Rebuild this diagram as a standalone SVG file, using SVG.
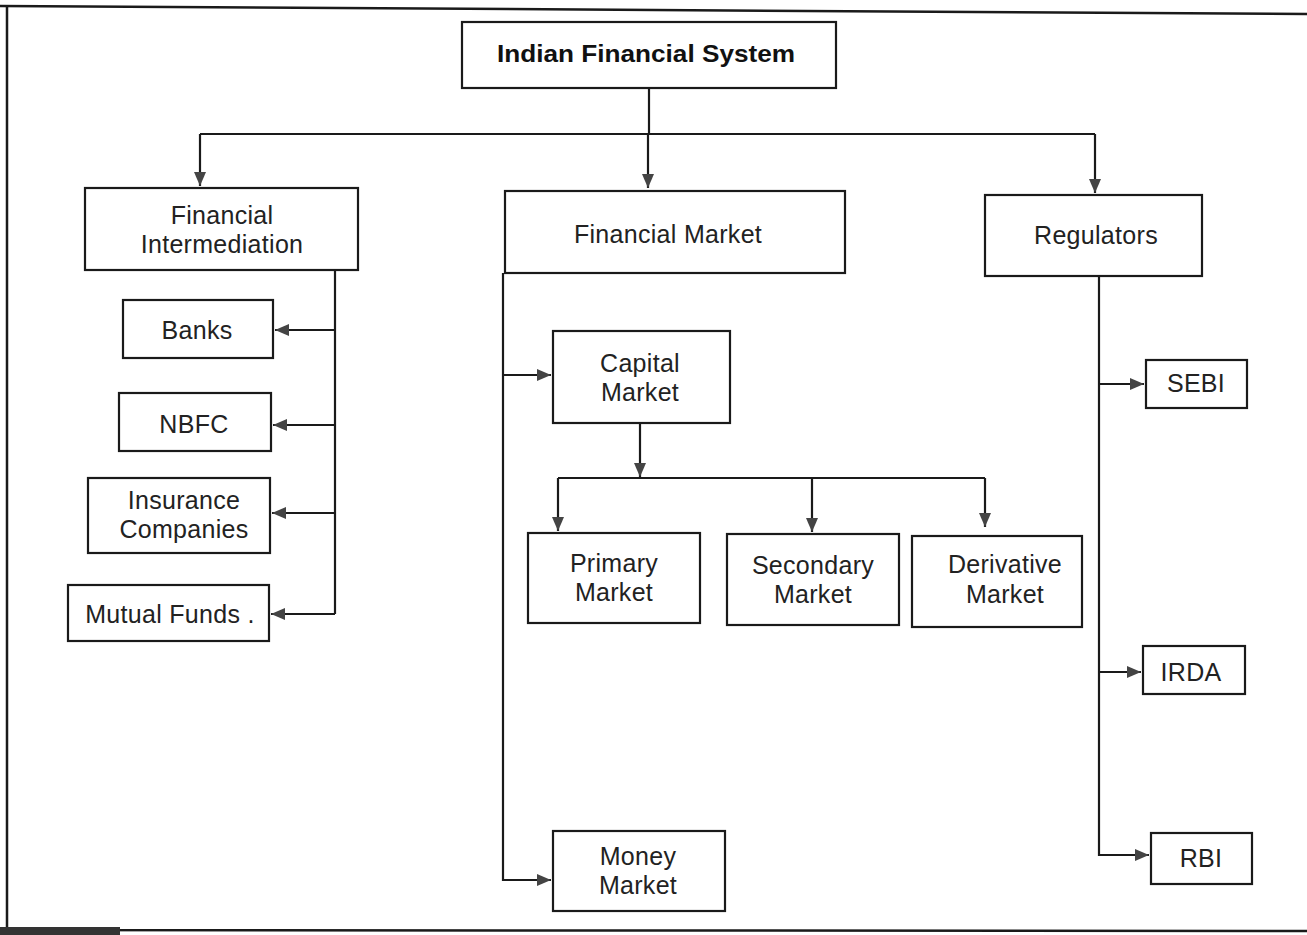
<svg xmlns="http://www.w3.org/2000/svg" width="1307" height="935" viewBox="0 0 1307 935">
<style>
.box{fill:#fff;stroke:#1a1a1a;stroke-width:2.2}
.t{font-family:"Liberation Sans",Arial,sans-serif;font-size:25px;letter-spacing:0.3px;fill:#222;text-anchor:middle}
.title{font-family:"Liberation Sans",Arial,sans-serif;font-size:24px;font-weight:bold;fill:#111;text-anchor:middle}
.c{fill:none;stroke:#1a1a1a;stroke-width:2.2}
.frame{fill:none;stroke:#1a1a1a;stroke-width:2.5}
</style>
<defs>
<marker id="ah" viewBox="0 0 14 12" refX="14" refY="6" markerWidth="14" markerHeight="12" orient="auto" markerUnits="userSpaceOnUse">
<path d="M0,0 L14,6 L0,12 Z" fill="#444"/>
</marker>
</defs>
<rect x="0" y="0" width="1307" height="935" fill="#fff"/>
<g id="frame">
<path class="frame" d="M0,6 L1307,14"/>
<path class="frame" d="M7,6 V930 L1307,931"/>
<rect x="0" y="927" width="120" height="8" fill="#333"/>
</g>
<g id="connectors">
<path class="c" d="M649,88 V134"/>
<path class="c" d="M200,134 H1095"/>
<path class="c" d="M200,134 V186" marker-end="url(#ah)"/>
<path class="c" d="M648,134 V188" marker-end="url(#ah)"/>
<path class="c" d="M1095,134 V193" marker-end="url(#ah)"/>
<path class="c" d="M335,270 V614"/>
<path class="c" d="M335,330 H275" marker-end="url(#ah)"/>
<path class="c" d="M335,425 H273" marker-end="url(#ah)"/>
<path class="c" d="M335,513 H272" marker-end="url(#ah)"/>
<path class="c" d="M335,614 H271" marker-end="url(#ah)"/>
<path class="c" d="M503,273 V880 H551" marker-end="url(#ah)"/>
<path class="c" d="M503,375 H551" marker-end="url(#ah)"/>
<path class="c" d="M640,423 V477" marker-end="url(#ah)"/>
<path class="c" d="M558,478 H985"/>
<path class="c" d="M558,478 V531" marker-end="url(#ah)"/>
<path class="c" d="M812,478 V532" marker-end="url(#ah)"/>
<path class="c" d="M985,478 V527" marker-end="url(#ah)"/>
<path class="c" d="M1099,276 V855 H1149" marker-end="url(#ah)"/>
<path class="c" d="M1099,384 H1144" marker-end="url(#ah)"/>
<path class="c" d="M1099,672 H1141" marker-end="url(#ah)"/>
</g>
<g id="n-ifs"><rect class="box" x="462" y="22" width="374" height="66"/><text class="title" x="646" y="62" textLength="298" lengthAdjust="spacingAndGlyphs">Indian Financial System</text></g>
<g id="n-fi"><rect class="box" x="85" y="188" width="273" height="82"/><text class="t" x="222" y="224">Financial</text><text class="t" x="222" y="253">Intermediation</text></g>
<g id="n-fm"><rect class="box" x="505" y="191" width="340" height="82"/><text class="t" x="668" y="243">Financial Market</text></g>
<g id="n-reg"><rect class="box" x="985" y="195" width="217" height="81"/><text class="t" x="1096" y="244">Regulators</text></g>
<g id="n-banks"><rect class="box" x="123" y="300" width="150" height="58"/><text class="t" x="197" y="339">Banks</text></g>
<g id="n-nbfc"><rect class="box" x="119" y="393" width="152" height="58"/><text class="t" x="194" y="433">NBFC</text></g>
<g id="n-ins"><rect class="box" x="88" y="478" width="182" height="75"/><text class="t" x="184" y="509">Insurance</text><text class="t" x="184" y="538">Companies</text></g>
<g id="n-mf"><rect class="box" x="68" y="585" width="201" height="56"/><text class="t" x="170" y="623">Mutual Funds .</text></g>
<g id="n-cap"><rect class="box" x="553" y="331" width="177" height="92"/><text class="t" x="640" y="372">Capital</text><text class="t" x="640" y="401">Market</text></g>
<g id="n-pri"><rect class="box" x="528" y="533" width="172" height="90"/><text class="t" x="614" y="572">Primary</text><text class="t" x="614" y="601">Market</text></g>
<g id="n-sec"><rect class="box" x="727" y="534" width="172" height="91"/><text class="t" x="813" y="574">Secondary</text><text class="t" x="813" y="603">Market</text></g>
<g id="n-der"><rect class="box" x="912" y="536" width="170" height="91"/><text class="t" x="1005" y="573">Derivative</text><text class="t" x="1005" y="603">Market</text></g>
<g id="n-money"><rect class="box" x="553" y="831" width="172" height="80"/><text class="t" x="638" y="865">Money</text><text class="t" x="638" y="894">Market</text></g>
<g id="n-sebi"><rect class="box" x="1146" y="360" width="101" height="48"/><text class="t" x="1196" y="392">SEBI</text></g>
<g id="n-irda"><rect class="box" x="1143" y="646" width="102" height="48"/><text class="t" x="1191" y="681">IRDA</text></g>
<g id="n-rbi"><rect class="box" x="1151" y="833" width="101" height="51"/><text class="t" x="1201" y="867">RBI</text></g>
</svg>
